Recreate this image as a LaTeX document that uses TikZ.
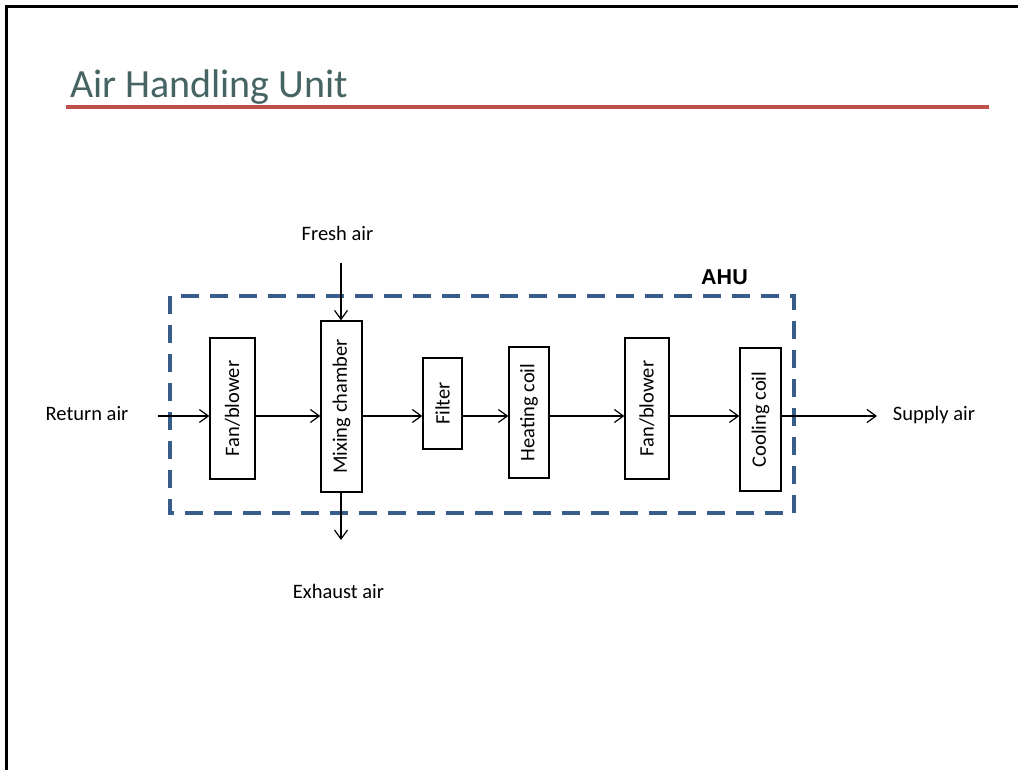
\documentclass[tikz,border=0pt]{standalone}
\usepackage{fontspec}
\setmainfont{Carlito}
\newfontfamily\arialfont{Liberation Sans}
\usetikzlibrary{arrows.meta}
\definecolor{titlecol}{HTML}{466464}
\definecolor{rulered}{HTML}{C0504D}
\definecolor{ahublue}{HTML}{385D8A}
\tikzset{
  unitbox/.style={draw=black, line width=1.3pt, inner sep=0pt, font=\fontsize{20.5}{24}\selectfont},
  flow/.style={draw=black, line width=1.2pt, -{Straight Barb[length=9pt,width=13pt,line width=1.2pt]}},
  lbl/.style={font=\fontsize{20.5}{24}\selectfont, inner sep=0pt, anchor=base},
}
\begin{document}
\begin{tikzpicture}[x=1pt,y=-1pt]
\useasboundingbox[fill=white] (0,0) rectangle (1018,770);
% page border
\draw[line width=3.5pt, line cap=rect] (6.5,770) -- (6.5,6.5) -- (1018,6.5);
% title
\node[anchor=base west, inner sep=0pt, text=titlecol, font=\fontsize{40}{46}\selectfont] (title) at (70,98) {Air Handling Unit};
\draw[rulered, line width=3.5pt] (66,107) -- (989,107);
% AHU dashed box
\draw[ahublue, line width=3.8pt, dash pattern=on 18pt off 11pt] (170,296) rectangle (794,513);
\node[anchor=base, inner sep=0pt, font=\arialfont\bfseries\fontsize{21.5}{24}\selectfont] (ahu) at (724.5,285) {AHU};
% units
\node[unitbox, minimum width=45pt, minimum height=141pt] (fan1) at (232.5,408.5) {\rotatebox{90}{Fan/blower}};
\node[unitbox, minimum width=41pt, minimum height=171pt] (mix) at (341.5,406.5) {\rotatebox{90}{Mixing chamber}};
\node[unitbox, minimum width=39pt, minimum height=91pt] (filt) at (442.5,403.5) {\rotatebox{90}{Filter}};
\node[unitbox, minimum width=40pt, minimum height=131pt] (heat) at (529,412.5) {\rotatebox{90}{Heating coil}};
\node[unitbox, minimum width=44pt, minimum height=141pt] (fan2) at (647,408.5) {\rotatebox{90}{Fan/blower}};
\node[unitbox, minimum width=41pt, minimum height=143pt] (cool) at (760.5,419.5) {\rotatebox{90}{Cooling coil}};
% labels
\node[lbl] (ret) at (87,420) {Return air};
\node[lbl] (sup) at (934,420) {Supply air};
\node[lbl] (fresh) at (337.5,241) {Fresh air};
\node[lbl] (exh) at (338.5,598) {Exhaust air};
% free ends
\coordinate (m) at (0,416);
\coordinate (retStart) at (158,416);
\coordinate (supEnd) at (877,416);
\coordinate (freshStart) at (341,263);
\coordinate (exhEnd) at (341,540);
% connectors
\draw[flow] (retStart) -- (retStart -| fan1.west);
\draw[flow] (fan1.east |- m) -- (mix.west |- m);
\draw[flow] (mix.east |- m) -- (filt.west |- m);
\draw[flow] (filt.east |- m) -- (heat.west |- m);
\draw[flow] (heat.east |- m) -- (fan2.west |- m);
\draw[flow] (fan2.east |- m) -- (cool.west |- m);
\draw[flow] (cool.east |- m) -- (supEnd);
\draw[flow] (freshStart) -- (freshStart |- mix.north);
\draw[flow] (exhEnd |- mix.south) -- (exhEnd);
\end{tikzpicture}
\end{document}
